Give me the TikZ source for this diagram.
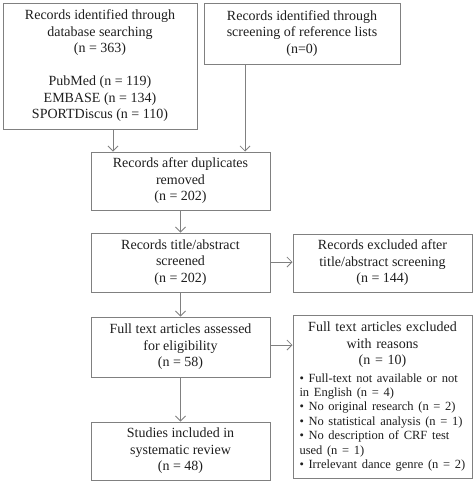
\documentclass[tikz,border=0pt]{standalone}
\usepackage{fontspec}
\setmainfont{Liberation Serif}
\usetikzlibrary{arrows.meta}
\definecolor{edge}{HTML}{808080}
\definecolor{ink}{HTML}{1E1E1E}
\tikzset{
  box/.style={draw=edge, line width=1pt, rectangle, inner sep=0pt, align=center,
    text=ink, font=\fontsize{14}{16.5}\selectfont},
  conn/.style={draw=edge, line width=1pt, -{Straight Barb[length=5pt,width=10pt,line width=0.8pt]}},
}
\begin{document}
\begin{tikzpicture}[x=1pt,y=-1pt]
\useasboundingbox (0,0) rectangle (474,482);
\node[box, minimum width=194pt, minimum height=126pt] (A) at (100,66)
  {Records identified through\\database searching\\(n = 363)\\[16.5pt]PubMed (n = 119)\\EMBASE (n = 134)\\SPORTDiscus (n = 110)};
\node[box, minimum width=196pt, minimum height=61pt] (B) at (302,33.5)
  {Records identified through\\screening of reference lists\\(n=0)};
\node[box, minimum width=179pt, minimum height=58pt] (C) at (180.5,181)
  {Records after duplicates\\removed\\(n = 202)};
\node[box, minimum width=179pt, minimum height=59pt] (D) at (180.5,262.5)
  {Records title/abstract\\screened\\(n = 202)};
\node[box, minimum width=179pt, minimum height=58pt] (E) at (382.5,263)
  {Records excluded after\\title/abstract screening\\(n = 144)};
\node[box, minimum width=179pt, minimum height=60pt] (F) at (180.5,347)
  {Full text articles assessed\\for eligibility\\(n = 58)};
\node[box, minimum width=179pt, minimum height=163pt, text width=166pt, align=left] (G) at (382.5,396.5)
  {{\centering Full text articles excluded\\with reasons\\(n = 10)\par}\vspace{3pt}
   {\raggedright\fontsize{12.5}{14.4}\selectfont
   \mbox{• Full-text not available or not}\\
   \mbox{in English (n = 4)}\\
   \mbox{• No original research (n = 2)}\\
   \mbox{• No statistical analysis (n = 1)}\\
   \mbox{• No description of CRF test}\\
   \mbox{used (n = 1)}\\
   \mbox{• Irrelevant dance genre (n = 2)}\par}};
\node[box, minimum width=179pt, minimum height=58pt] (H) at (180.5,451)
  {Studies included in\\systematic review\\(n = 48)};
\draw[conn] (A.south -| 113,0) -- (C.north -| 113,0);
\draw[conn] (B.south -| 245,0) -- (C.north -| 245,0);
\draw[conn] (C) -- (D);
\draw[conn] (D.east |- 0,262) -- (E.west |- 0,262);
\draw[conn] (D) -- (F);
\draw[conn] (F.east |- 0,345) -- (G.west |- 0,345);
\draw[conn] (F) -- (H);
\end{tikzpicture}
\end{document}
